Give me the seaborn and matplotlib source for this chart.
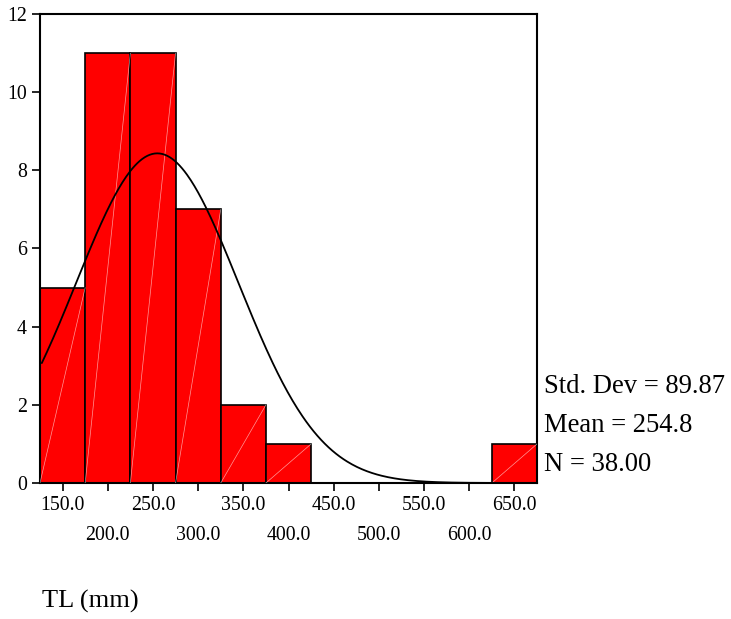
import numpy as np
import pandas as pd
import matplotlib
matplotlib.use('Agg')
import matplotlib.pyplot as plt
import seaborn as sns

# histogram of TL (mm), bins of width 50
bin_centers = [150, 200, 250, 300, 350, 400, 450, 500, 550, 600, 650]
counts = [5, 11, 11, 7, 2, 1, 0, 0, 0, 0, 1]
std_dev = 89.87
mean = 254.8
n = 38
tick_vals = [150, 200, 250, 300, 350, 400, 450, 500, 550, 600, 650]

sns.set_style('ticks')
plt.rcParams['font.family'] = ['Liberation Serif', 'DejaVu Serif']
plt.rcParams['text.color'] = 'black'

df = pd.DataFrame({'TL': bin_centers, 'count': counts})

fig = plt.figure(figsize=(7.31, 6.19), dpi=100)
ax = fig.add_axes([0.0547, 0.2197, 0.68, 0.7577])

sns.histplot(data=df, x='TL', weights='count', binwidth=50, binrange=(125, 675),
             color='#ff0000', edgecolor='black', linewidth=1.2, alpha=1, ax=ax)

# faint white diagonal in each bar, like the original export
for p in ax.patches:
    h = p.get_height()
    if h > 0:
        x0 = p.get_x()
        ax.plot([x0, x0 + p.get_width()], [0, h], color='white', lw=0.5, alpha=0.6, zorder=3)

# normal curve
xs = np.linspace(127, 675, 400)
ys = n * 50 / (std_dev * np.sqrt(2 * np.pi)) * np.exp(-0.5 * ((xs - mean) / std_dev) ** 2)
ax.plot(xs, ys, color='black', lw=1.3, zorder=4)

ax.set_xlim(125, 675)
ax.set_ylim(0, 12)
ax.set_yticks([0, 2, 4, 6, 8, 10, 12])
ax.set_xticks(tick_vals)
labels = []
for i, v in enumerate(tick_vals):
    labels.append(f'{v:.1f}' if i % 2 == 0 else f'\n{v:.1f}')
ax.set_xticklabels(labels, linespacing=1.75)
ax.tick_params(labelsize=14.3, length=6, width=1.2, direction='out', colors='black')
for s in ax.spines.values():
    s.set_visible(True)
    s.set_linewidth(1.5)
    s.set_color('black')
ax.set_xlabel('')
ax.set_ylabel('')

fig.text(0.744, 0.365, f'Std. Dev = {std_dev:.2f}', fontsize=19.2, va='baseline')
fig.text(0.744, 0.302, f'Mean = {mean:.1f}', fontsize=19.2, va='baseline')
fig.text(0.744, 0.239, f'N = {n:.2f}', fontsize=19.2, va='baseline')
fig.text(0.0575, 0.019, 'TL (mm)', fontsize=19, va='baseline')

fig.savefig('out.png', dpi=100)
